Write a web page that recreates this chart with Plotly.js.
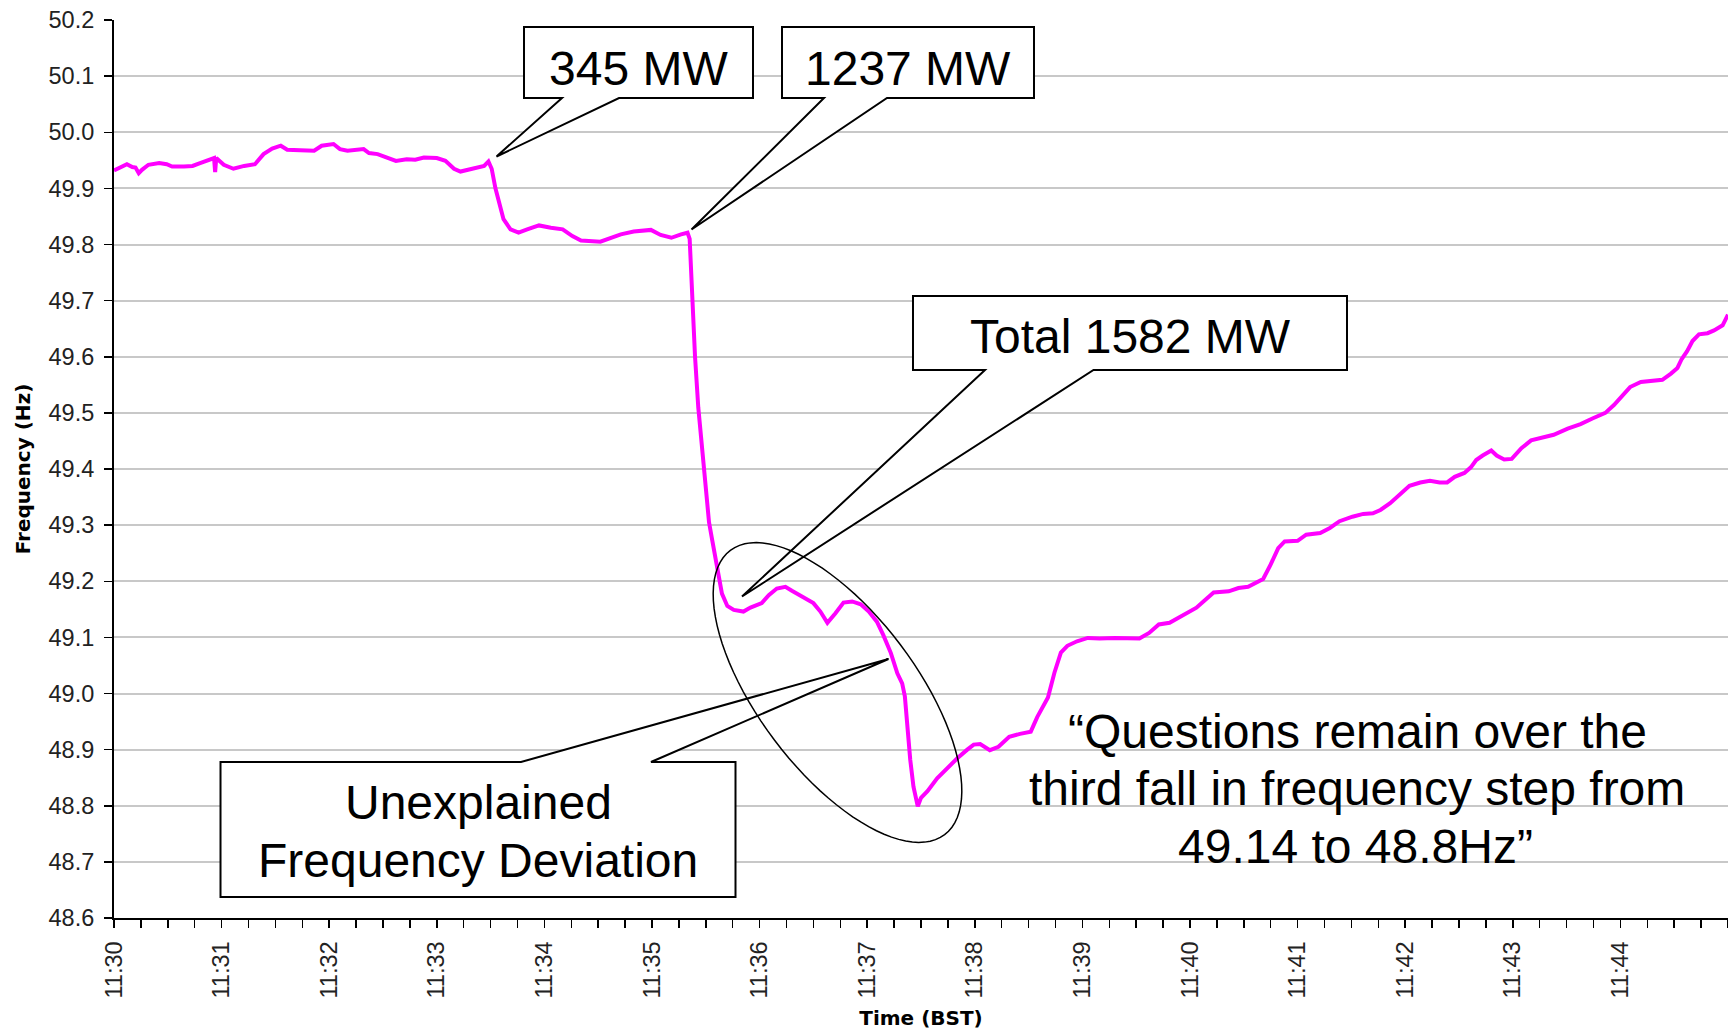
<!DOCTYPE html>
<html><head><meta charset="utf-8">
<script src="https://cdn.plot.ly/plotly-3.0.1.min.js"></script>
<style>html,body{margin:0;padding:0;background:#fff}#chart{width:1728px;height:1034px}</style>
</head><body><div id="chart"></div>
<script>
// Time in minutes after 11:30 (BST)
const minutes = [
 0.00,0.06,0.12,0.17,0.20,0.23,0.26,0.32,0.42,0.49,0.54,0.65,0.73,0.80,0.87,0.93,0.94,0.95,1.02,1.11,
 1.21,1.31,1.39,1.47,1.55,1.61,1.73,1.86,1.93,2.04,2.10,2.17,2.32,2.37,2.45,2.51,2.62,2.72,2.80,2.88,
 3.00,3.08,3.16,3.22,3.28,3.38,3.44,3.48,3.51,3.545,3.58,3.62,3.685,3.76,3.84,3.95,4.06,4.17,4.26,4.34,
 4.52,4.60,4.71,4.83,4.99,5.08,5.18,5.27,5.33,5.35,5.36,5.38,5.40,5.43,5.46,5.49,5.53,5.56,5.59,5.62,
 5.65,5.70,5.76,5.85,5.915,6.02,6.085,6.16,6.24,6.30,6.41,6.50,6.565,6.63,6.705,6.78,6.86,6.94,7.015,7.09,
 7.15,7.22,7.28,7.325,7.35,7.37,7.40,7.43,7.47,7.50,7.56,7.65,7.74,7.84,7.93,7.99,8.05,8.14,8.22,8.32,
 8.42,8.52,8.58,8.68,8.74,8.80,8.86,8.95,9.05,9.16,9.30,9.44,9.53,9.62,9.71,9.81,9.90,9.99,10.06,10.13,
 10.22,10.36,10.45,10.54,10.61,10.68,10.75,10.82,10.88,11.00,11.08,11.21,11.30,11.39,11.51,11.61,11.70,11.77,11.86,11.95,
 12.04,12.14,12.23,12.32,12.39,12.46,12.55,12.61,12.66,12.72,12.80,12.85,12.92,12.99,13.08,13.17,13.27,13.38,13.51,13.63,
 13.74,13.86,13.94,14.02,14.09,14.19,14.31,14.39,14.47,14.53,14.57,14.62,14.67,14.73,14.81,14.87,14.95,15.00
];
// System frequency (Hz)
const freqHz = [
 49.932,49.937,49.943,49.938,49.937,49.927,49.933,49.942,49.945,49.943,49.939,49.939,49.940,49.945,49.949,49.954,49.929,49.954,49.942,49.935,
 49.940,49.943,49.961,49.971,49.976,49.969,49.968,49.967,49.976,49.979,49.970,49.967,49.970,49.963,49.961,49.957,49.949,49.952,49.951,49.955,
 49.954,49.949,49.935,49.930,49.933,49.938,49.940,49.948,49.935,49.900,49.875,49.845,49.827,49.821,49.827,49.834,49.830,49.827,49.815,49.807,
 49.805,49.810,49.818,49.823,49.826,49.817,49.812,49.818,49.821,49.810,49.760,49.680,49.600,49.510,49.450,49.380,49.305,49.273,49.238,49.205,
 49.178,49.156,49.149,49.146,49.153,49.161,49.175,49.187,49.190,49.183,49.170,49.161,49.146,49.126,49.143,49.162,49.164,49.159,49.146,49.128,
 49.104,49.072,49.036,49.018,48.995,48.941,48.882,48.834,48.799,48.814,48.826,48.849,48.867,48.885,48.900,48.909,48.910,48.899,48.905,48.923,
 48.928,48.932,48.958,48.993,49.037,49.073,49.085,49.093,49.099,49.098,49.099,49.099,49.098,49.108,49.123,49.126,49.135,49.146,49.153,49.165,
 49.180,49.182,49.188,49.190,49.197,49.204,49.230,49.259,49.271,49.272,49.283,49.286,49.295,49.307,49.315,49.320,49.321,49.327,49.339,49.355,
 49.370,49.376,49.379,49.376,49.376,49.386,49.393,49.403,49.416,49.424,49.433,49.424,49.417,49.418,49.437,49.451,49.456,49.461,49.472,49.480,
 49.490,49.500,49.514,49.531,49.546,49.555,49.557,49.559,49.570,49.580,49.596,49.610,49.628,49.640,49.642,49.647,49.656,49.675
];
const tickMinutes = [0,1,2,3,4,5,6,7,8,9,10,11,12,13,14];
const tickLabels = ['11:30','11:31','11:32','11:33','11:34','11:35','11:36','11:37','11:38','11:39','11:40','11:41','11:42','11:43','11:44'];
const limitHz = 49.5;
const calloutLines = [['345 MW'], ['1237 MW'], ['Total 1582 MW'], ['Unexplained', 'Frequency Deviation']];
const noteLines = ['\u201CQuestions remain over the', 'third fall in frequency step from', '49.14 to 48.8Hz\u201D'];

const W = 1728, H = 1034, M = {l: 114, r: 0, t: 20, b: 116};
const PW = W - M.l - M.r, PH = H - M.t - M.b;
const px = x => (x - M.l) / PW;
const py = y => (H - M.b - y) / PH;
const pathOf = pts => 'M ' + pts.map(p => px(p[0]).toFixed(5) + ',' + py(p[1]).toFixed(5)).join(' L ') + ' Z';

// callout outlines in page pixels
const callouts = [
  [[524,27],[753,27],[753,98],[619,98],[496.5,156.5],[562,98],[524,98]],
  [[782,27],[1034,27],[1034,98],[887,98],[691.5,229.5],[824,98],[782,98]],
  [[913,296],[1347,296],[1347,370],[1093.5,370],[742,596.5],[985,370],[913,370]],
  [[220.5,762],[521,762],[888.5,659],[651,762],[735.5,762],[735.5,897],[220.5,897]]
];
const shapes = [{
  type: 'line', xref: 'paper', yref: 'y', x0: 0, x1: 1, y0: limitHz, y1: limitHz,
  line: {color: '#ff0000', width: 2}, layer: 'between'
}];
callouts.forEach(c => shapes.push({
  type: 'path', xref: 'paper', yref: 'paper', path: pathOf(c),
  fillcolor: '#ffffff', line: {color: '#000000', width: 2}, layer: 'above'
}));
// rotated ellipse
const ell = [], ecx = 837.5, ecy = 692.5, ea = 178, eb = 79, eth = 53 * Math.PI / 180;
for (let i = 0; i < 96; i++) {
  const t = i / 96 * 2 * Math.PI;
  const u = ea * Math.cos(t), v = eb * Math.sin(t);
  ell.push([ecx + u * Math.cos(eth) - v * Math.sin(eth), ecy + u * Math.sin(eth) + v * Math.cos(eth)]);
}
shapes.push({type: 'path', xref: 'paper', yref: 'paper', path: pathOf(ell),
  line: {color: '#000000', width: 1.5}, fillcolor: 'rgba(0,0,0,0)', layer: 'above'});

const bigFont = {family: 'Liberation Sans, Arial, sans-serif', size: 48, color: '#000'};
const annPos = [[[638, 68]], [[908, 68]], [[1130, 337]], [[478, 802], [478, 860]]];
const annotations = [];
calloutLines.forEach((lines, i) => lines.forEach((t, j) => annotations.push({
  xref: 'paper', yref: 'paper', x: px(annPos[i][j][0]), y: py(annPos[i][j][1]),
  text: t, showarrow: false, xanchor: 'center', yanchor: 'middle', font: bigFont
})));
const notePos = [[1357, 731], [1357, 788], [1355, 846]];
noteLines.forEach((t, j) => annotations.push({
  xref: 'paper', yref: 'paper', x: px(notePos[j][0]), y: py(notePos[j][1]),
  text: t, showarrow: false, xanchor: 'center', yanchor: 'middle', font: bigFont
}));

const tickFont = {family: 'Liberation Sans, Arial, sans-serif', size: 23.5, color: '#222'};
const titleFont = {family: 'DejaVu Sans, sans-serif', size: 20, color: '#000'};

const trace = {
  x: minutes, y: freqHz, type: 'scatter', mode: 'lines',
  line: {color: '#ff00ff', width: 4}, hoverinfo: 'skip'
};

const layout = {
  width: W, height: H, margin: {l: M.l, r: M.r, t: M.t, b: M.b, pad: 0},
  paper_bgcolor: '#fff', plot_bgcolor: '#fff', showlegend: false,
  xaxis: {
    range: [0, 15], tickmode: 'array', tickvals: tickMinutes, ticktext: tickLabels,
    tickangle: -90, ticks: 'outside', ticklen: 8, tickwidth: 1.5, tickcolor: '#000',
    showline: true, linecolor: '#000', linewidth: 2, showgrid: false, zeroline: false,
    minor: {tickmode: 'linear', tick0: 0, dtick: 0.25, ticks: 'outside', ticklen: 8, tickwidth: 1.5, tickcolor: '#000', showgrid: false},
    tickfont: tickFont, ticklabelstandoff: 4, automargin: true,
    title: {text: '<b>Time (BST)</b>', font: titleFont, standoff: 14}
  },
  yaxis: {
    range: [48.6, 50.2], tickmode: 'linear', tick0: 48.6, dtick: 0.1, tickformat: '.1f',
    ticks: 'outside', ticklen: 8, tickwidth: 1.5, tickcolor: '#000',
    showline: true, linecolor: '#000', linewidth: 2, showgrid: true, gridcolor: '#c8c8c8', gridwidth: 2,
    zeroline: false, tickfont: tickFont, ticklabelstandoff: 5, automargin: true,
    title: {text: '<b>Frequency (Hz)</b>', font: titleFont, standoff: 13}
  },
  shapes: shapes, annotations: annotations
};

Plotly.newPlot('chart', [trace], layout, {displayModeBar: false, staticPlot: true});
</script></body></html>
